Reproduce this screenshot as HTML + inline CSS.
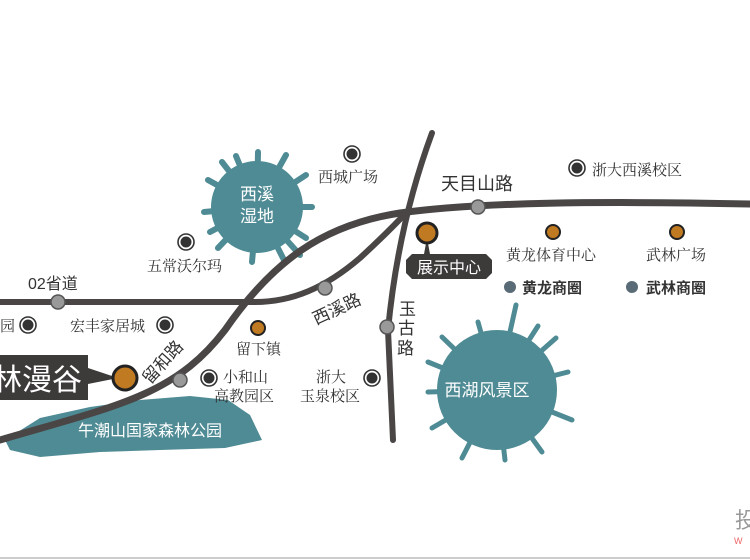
<!DOCTYPE html>
<html><head><meta charset="utf-8"><style>
html,body{margin:0;padding:0;background:#fff;}
svg{display:block;}
text{font-family:"Liberation Sans","Noto Sans CJK SC",sans-serif;}
.s{font-family:"Noto Serif CJK SC","Liberation Serif",serif;fill:#333;font-size:15px;}
</style></head><body>
<svg width="750" height="560" viewBox="0 0 750 560" xmlns="http://www.w3.org/2000/svg">
<rect width="750" height="560" fill="#fff"/>
<!-- blobs -->
<g fill="#4f8b94" stroke="#4f8b94" stroke-linecap="round">
 <circle cx="257" cy="207" r="46" stroke="none"/>
 <g stroke-width="6">
  <line x1="257" y1="207" x2="258" y2="152"/><line x1="257" y1="207" x2="236" y2="156"/>
  <line x1="257" y1="207" x2="286" y2="155"/><line x1="257" y1="207" x2="306" y2="175"/>
  <line x1="257" y1="207" x2="312" y2="207"/><line x1="257" y1="207" x2="306" y2="238"/>
  <line x1="257" y1="207" x2="284" y2="260"/><line x1="257" y1="207" x2="252" y2="262"/>
  <line x1="257" y1="207" x2="218" y2="248"/><line x1="257" y1="207" x2="204" y2="212"/>
  <line x1="257" y1="207" x2="208" y2="180"/><line x1="257" y1="207" x2="222" y2="162"/>
  <line x1="257" y1="207" x2="300" y2="255"/><line x1="257" y1="207" x2="210" y2="232"/>
 </g>
 <circle cx="497" cy="390" r="60" stroke="none"/>
 <g stroke-width="5">
  <line x1="497" y1="390" x2="516" y2="305"/><line x1="497" y1="390" x2="478" y2="322"/>
  <line x1="497" y1="390" x2="442" y2="337"/><line x1="497" y1="390" x2="428" y2="362"/>
  <line x1="497" y1="390" x2="428" y2="392"/><line x1="497" y1="390" x2="432" y2="428"/>
  <line x1="497" y1="390" x2="462" y2="458"/><line x1="497" y1="390" x2="505" y2="460"/>
  <line x1="497" y1="390" x2="542" y2="452"/><line x1="497" y1="390" x2="572" y2="420"/>
  <line x1="497" y1="390" x2="568" y2="372"/><line x1="497" y1="390" x2="556" y2="338"/>
  <line x1="497" y1="390" x2="538" y2="326"/>
 </g>
 <polygon stroke="none" points="5,440 40,418 90,407 140,400 190,396 228,400 250,415 262,440 225,448 160,450 100,452 40,457 10,450"/>
</g>
<!-- roads -->
<g fill="none" stroke="#4a4646" stroke-linecap="round">
 <path d="M0,302 L255,302 C292,302 325,288 360,258 Q385,235 405,214" stroke-width="6"/>
 <path d="M0,440 C120,405 175,395 225,330 C272,262 322,225 400,213 C480,202 600,201 750,204" stroke-width="7"/>
 <path d="M432,133 Q398,225 388,330 L393,440" stroke-width="6"/>
</g>
<g fill="#999" stroke="#555" stroke-width="1.5">
 <circle cx="58" cy="302" r="7"/><circle cx="180" cy="380" r="7"/><circle cx="325" cy="288" r="7"/>
 <circle cx="387" cy="327" r="7"/><circle cx="478" cy="207" r="7"/>
</g>
<!-- forest label -->
<text x="150" y="436" fill="#fff" font-size="16" text-anchor="middle">午潮山国家森林公园</text>
<text x="257" y="200" fill="#fff" font-size="17" text-anchor="middle">西溪</text>
<text x="257" y="222" fill="#fff" font-size="17" text-anchor="middle">湿地</text>
<text x="487" y="396" fill="#fff" font-size="17" text-anchor="middle">西湖风景区</text>
<!-- callouts -->
<path d="M0,355 L88,355 L88,368 L118,378 L88,384 L88,400 L0,400 Z" fill="#3d3a3a"/>
<text x="-8" y="390" fill="#fff" font-size="30">林漫谷</text>
<circle cx="125" cy="378" r="12" fill="#c07a22" stroke="#222" stroke-width="3"/>
<path d="M412,254 L486,254 L492,260 L492,273 L486,279 L412,279 L406,273 L406,260 Z" fill="#3d3a3a"/>
<path d="M424,254 L427,238 L430,254 Z" fill="#3d3a3a"/>
<circle cx="427" cy="233" r="10" fill="#c07a22" stroke="#222" stroke-width="3"/>
<text x="449" y="273" fill="#fff" font-size="16" text-anchor="middle">展示中心</text>
<!-- POIs dark -->
<g fill="#333" stroke="#333">
 <circle cx="352" cy="154" r="5"/><circle cx="186" cy="242" r="5"/><circle cx="28" cy="325" r="5"/>
 <circle cx="165" cy="325" r="5"/><circle cx="209" cy="378" r="5"/><circle cx="372" cy="378" r="5"/>
 <circle cx="577" cy="168" r="5"/>
</g>
<g fill="none" stroke="#333" stroke-width="1.6">
 <circle cx="352" cy="154" r="8"/><circle cx="186" cy="242" r="8"/><circle cx="28" cy="325" r="8"/>
 <circle cx="165" cy="325" r="8"/><circle cx="209" cy="378" r="8"/><circle cx="372" cy="378" r="8"/>
 <circle cx="577" cy="168" r="8"/>
</g>
<g fill="#c07a22" stroke="#222" stroke-width="2">
 <circle cx="258" cy="328" r="7"/><circle cx="553" cy="232" r="7"/><circle cx="677" cy="232" r="7"/>
</g>
<g fill="#5a6b78"><circle cx="510" cy="287" r="6"/><circle cx="632" cy="287" r="6"/></g>
<!-- labels -->
<text class="s" x="318" y="182">西城广场</text>
<text class="s" x="147" y="271">五常沃尔玛</text>
<text class="s" x="0" y="331">园</text>
<text class="s" x="70" y="331">宏丰家居城</text>
<text class="s" x="236" y="354">留下镇</text>
<text class="s" x="223" y="382">小和山</text>
<text class="s" x="214" y="401">高教园区</text>
<text class="s" x="316" y="382">浙大</text>
<text class="s" x="300" y="401">玉泉校区</text>
<text class="s" x="592" y="175">浙大西溪校区</text>
<text class="s" x="506" y="260">黄龙体育中心</text>
<text class="s" x="646" y="260">武林广场</text>
<text x="522" y="293" font-size="15" font-weight="bold" fill="#333">黄龙商圈</text>
<text x="646" y="293" font-size="15" font-weight="bold" fill="#333">武林商圈</text>
<text x="28" y="289" font-size="16" fill="#333">02省道</text>
<text x="441" y="190" font-size="18" fill="#333">天目山路</text>
<text x="0" y="0" font-size="17" fill="#333" transform="translate(316,325) rotate(-25)">西溪路</text>
<text x="0" y="0" font-size="17" fill="#333" transform="translate(150,385) rotate(-48)">留和路</text>
<text x="399" y="315" font-size="17" fill="#333">玉</text>
<text x="398" y="334" font-size="17" fill="#333">古</text>
<text x="397" y="354" font-size="17" fill="#333">路</text>
<text x="735" y="528" font-size="22" fill="#999">投</text>
<text x="734" y="544" font-size="9" fill="#e66">W</text>
<line x1="0" y1="558" x2="750" y2="558" stroke="#ccc" stroke-width="2"/>
</svg>
</body></html>
